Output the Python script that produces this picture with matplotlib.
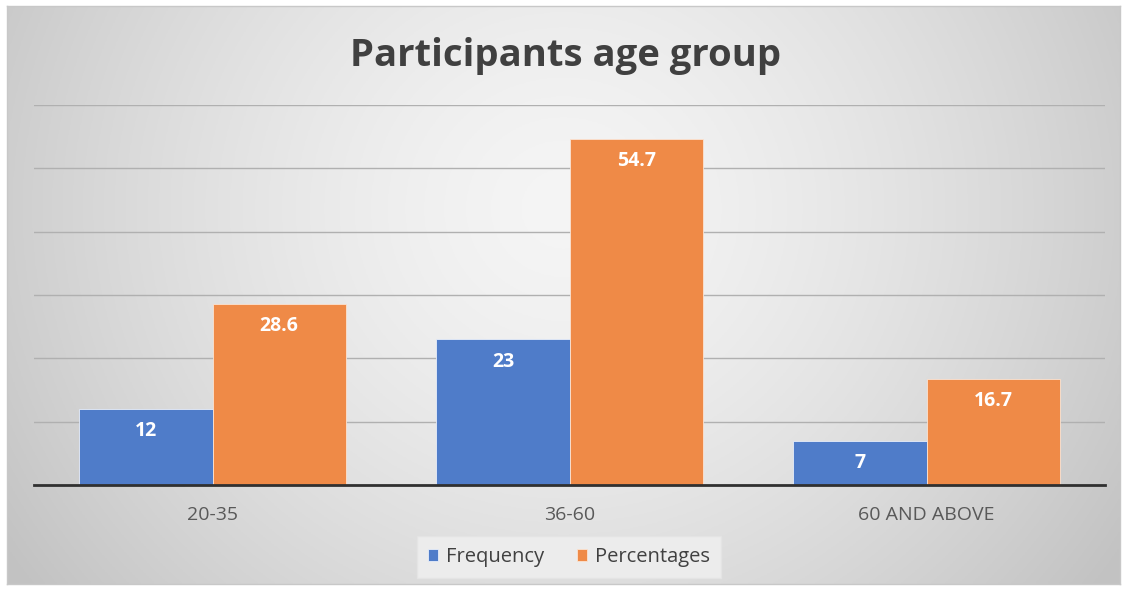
import numpy as np
import matplotlib
matplotlib.use("Agg")
import matplotlib.pyplot as plt

categories = ["20-35", "36-60", "60 AND ABOVE"]
frequency = [12, 23, 7]
percentages = [28.6, 54.7, 16.7]
series_names = ["Frequency", "Percentages"]

BLUE = "#4f7cc9"
ORANGE = "#ef8a47"

plt.rcParams["font.family"] = ["Open Sans", "DejaVu Sans"]

fig = plt.figure(figsize=(11.27, 5.9), dpi=100)
fig.patch.set_facecolor("white")

# gradient background of the chart frame
bg = fig.add_axes([7 / 1127, 6 / 590, 1113 / 1127, 578 / 590])
gx = np.linspace(-1, 1, 400)
gy = np.linspace(-1, 1, 200)
X, Y = np.meshgrid(gx, gy)
r = np.sqrt(X ** 2 + ((Y + 0.3) * 0.55) ** 2)
shade = 0.96 - 0.15 * np.clip(r, 0, 1.2) ** 1.5
bg.imshow(np.dstack([shade] * 3), aspect="auto", extent=(0, 1, 0, 1), origin="upper")
bg.set_xticks([])
bg.set_yticks([])
for s in bg.spines.values():
    s.set_color("#c8c8c8")
    s.set_linewidth(1)
bg.set_zorder(0)

ax = fig.add_axes([34 / 1127, 105 / 590, 1071 / 1127, 380 / 590])
ax.set_zorder(1)
ax.patch.set_alpha(0)

x = np.arange(len(categories))
w = 0.373
b1 = ax.bar(x - w / 2, frequency, w, color=BLUE, label=series_names[0], zorder=3,
            edgecolor="#e8eefa", linewidth=0.6)
b2 = ax.bar(x + w / 2, percentages, w, color=ORANGE, label=series_names[1], zorder=3,
            edgecolor="#fbe3d2", linewidth=0.6)

for bars, vals in ((b1, frequency), (b2, percentages)):
    for rect, v in zip(bars, vals):
        ax.annotate(f"{v:g}", (rect.get_x() + rect.get_width() / 2, v),
                    xytext=(0, -16), textcoords="offset points",
                    ha="center", va="center", color="white",
                    fontsize=14, fontweight="bold", zorder=4)

ax.set_xlim(-0.5, len(categories) - 0.5)
ax.set_ylim(0, 60)
ax.set_yticks(np.arange(0, 61, 10))
ax.yaxis.grid(True, color="#b0b0b0", linewidth=1)
ax.set_axisbelow(True)
ax.tick_params(axis="y", left=False, labelleft=False)
ax.tick_params(axis="x", length=0, pad=15, labelsize=14, labelcolor="#595959")
ax.set_xticks(x)
ax.set_xticklabels(categories)
for side in ("top", "right", "left"):
    ax.spines[side].set_visible(False)
ax.spines["bottom"].set_color("#303030")
ax.spines["bottom"].set_linewidth(2)
ax.spines["bottom"].set_zorder(5)

fig.text(0.502, 0.905, "Participants age group", ha="center", va="center",
         fontsize=27.5, fontweight="bold", color="#404040")

leg = fig.legend(loc="center", bbox_to_anchor=(569 / 1127, 1 - 557 / 590), ncol=2,
                 fontsize=14.5, frameon=True, handlelength=0.5, handleheight=0.5,
                 handletextpad=0.4, columnspacing=1.6, borderpad=0.55)
leg.get_frame().set_facecolor("#ececec")
leg.get_frame().set_edgecolor("#e4e4e4")
leg.get_frame().set_alpha(1)
leg.get_frame().set_boxstyle("square", pad=0)
for t in leg.get_texts():
    t.set_color("#404040")

fig.savefig("out.png", dpi=100)
